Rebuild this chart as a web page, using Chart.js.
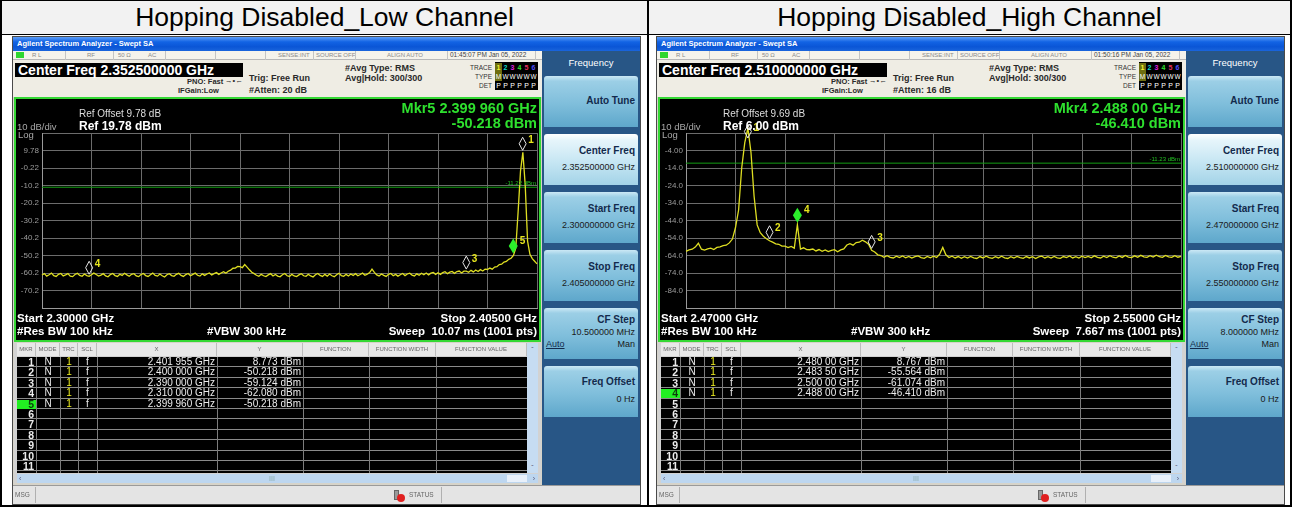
<!DOCTYPE html>
<html>
<head>
<meta charset="utf-8">
<title>Hopping Disabled</title>
<script src="https://cdn.jsdelivr.net/npm/chart.js@4.4.1/dist/chart.umd.min.js"></script>
<style>
* { box-sizing: border-box; }
body { margin: 0; width: 1292px; height: 507px; background: #fff; position: relative; overflow: hidden;
       font-family: "Liberation Sans", Arial, sans-serif; }
#frame { position: absolute; left: 0; top: 0; width: 1292px; height: 507px; border: 2px solid #000; border-top-width: 1px; }
.hdr { position: absolute; top: 0; height: 34px; background: #f2f2f2; border-bottom: 1px solid #000;
       font-size: 26.5px; line-height: 33px; text-align: center; color: #000; }
#divider { position: absolute; left: 645px; top: 0; width: 2px; height: 504px; background: #000; }

.screen { position: absolute; top: 36px; width: 629px; height: 469px; border: 1px solid #4a4a4a; background: #d6d3c9; }
.tbar { position: absolute; left: 0; top: 0; width: 627px; height: 14px; color: #fff; font-size: 7.5px; font-weight: bold;
        line-height: 14px; padding-left: 4px; background: linear-gradient(#5d9ef7, #1263e4 35%, #0a55d6 70%, #1a65dc); }
.srow { position: absolute; left: 0; top: 14px; width: 627px; height: 9px; background: #f5f3ec; border-bottom: 1px solid #b8b8b8;
        font-size: 6px; color: #8a8a8a; line-height: 8px; }
.srow i { position: absolute; top: 0; font-style: normal; white-space: nowrap; }
.srow b { position: absolute; top: 0; width: 1px; height: 9px; background: #c4c4c4; }
.lxi { position: absolute; left: 3px; top: 1px; width: 8px; height: 6px; background: #2fd62f; }
.info { position: absolute; left: 0; top: 23px; width: 627px; height: 37px; background: #efede4; }
.cf { position: absolute; left: 2px; top: 3px; width: 228px; height: 14px; background: #000; color: #fff; font-size: 14px;
      font-weight: bold; line-height: 14px; padding-left: 3px; white-space: nowrap; }
.t { position: absolute; white-space: nowrap; line-height: 12px; height: 12px; }
.b7 { font-size: 7.5px; font-weight: bold; color: #2a2a2a; }
.b9 { font-size: 9px; font-weight: bold; color: #2a2a2a; }
.tl { position: absolute; font-size: 6.5px; color: #333; line-height: 9px; white-space: nowrap; }
.tbox { position: absolute; left: 482px; top: 2px; width: 43px; height: 28px; background: #000; }
.tbox div { position: absolute; left: 0; width: 43px; height: 9px; line-height: 9px; font-size: 7px; font-weight: bold; color: #fff; }
.tbox span { display: inline-block; width: 7px; text-align: center; }

.plot { position: absolute; left: 1px; top: 60px; width: 527px; height: 245px; background: #000; border: 2px solid #34d834; }
.plot canvas { position: absolute; left: 0; top: 0; }
.w { color: #fff; font-weight: bold; font-size: 11.5px; }
.mk { color: #2ee02e; font-weight: bold; font-size: 14.5px; line-height: 14px; height: 14px; }

.tbl { position: absolute; left: 1px; top: 306px; width: 527px; height: 140px; background: #d2d2d2; }
.th { position: absolute; top: 0; height: 13px; line-height: 13px; font-size: 6px; color: #666; text-align: center;
      background: #e8e8e8; border-right: 1px solid #bdbdbd; white-space: nowrap; overflow: hidden; }
.tb { position: absolute; left: 3px; top: 14px; width: 510px; height: 116px; background: #000; }
.row { position: absolute; left: 0; width: 510px; height: 10.4px; border-bottom: 1px solid #8a8a8a; }
.vl { position: absolute; top: 0; width: 1px; height: 116px; background: #7c7c7c; }
.td { position: absolute; top: 0; height: 10px; line-height: 10px; font-size: 10px; color: #ececec; white-space: nowrap; }
.vs { position: absolute; left: 513px; top: 0; width: 11px; height: 130px; background: #c6dcf2; font-size: 7px; color: #557;
      text-align: center; }
.hs { position: absolute; left: 3px; top: 131px; width: 521px; height: 9px; background: #bdd6ef; font-size: 7px; color: #557;
      line-height: 9px; }

.keys { position: absolute; left: 529px; top: 14px; width: 98px; height: 434px; background: #285686; }
.ktl { position: absolute; left: 0; top: 4px; width: 98px; text-align: center; color: #fff; font-size: 9.5px; line-height: 16px; }
.key { position: absolute; left: 2px; width: 94px; height: 51px; border-radius: 3px 3px 0 0;
       background: linear-gradient(#cbe8f5 0, #9ccfe6 10%, #7fbedb 55%, #5ea7cb 100%); }
.key.sel { background: linear-gradient(#ffffff 0, #e6f5fb 12%, #c6e6f3 55%, #a3d3e8 100%); }
.kt { position: absolute; right: 3px; font-size: 10px; font-weight: bold; color: #132a4c; line-height: 12px; white-space: nowrap; }
.kv { position: absolute; right: 3px; font-size: 9px; color: #1a1a1a; line-height: 11px; white-space: nowrap; }

.msg { position: absolute; left: 0; top: 448px; width: 627px; height: 19px; background: #e4e4e4; border-top: 1px solid #9a9a9a;
       font-size: 6.5px; color: #666; line-height: 18px; }
.msg span { position: absolute; top: 0; }
.msg b { position: absolute; top: 1px; width: 1px; height: 16px; background: #b0b0b0; }
</style>
</head>
<body>
<div id="frame">
  <div class="hdr" style="left:0;width:645px">Hopping Disabled_Low Channel</div>
  <div class="hdr" style="left:647px;width:641px">Hopping Disabled_High Channel</div>
  <div id="divider"></div>
</div>
<div id="scrLow" class="screen" style="left:12px"></div>
<div id="scrHigh" class="screen" style="left:656px"></div>

<script>
// trace levels in dBm, one sample every 0.5 MHz from start to stop frequency
const lowLevels = [
  -61.4, -60.6, -62.0, -61.2, -60.3, -61.7, -62.2, -61.0, -60.5, -61.9,
  -61.3, -60.6, -62.0, -62.3, -61.1, -60.4, -61.6, -62.1, -60.8, -61.7,
  -62.08, -61.2, -60.3, -61.1, -62.0, -61.4, -60.6, -61.9, -62.4, -61.1,
  -60.5, -61.7, -62.2, -60.9, -61.6, -60.4, -61.3, -62.1, -61.0, -60.6,
  -61.9, -62.3, -61.1, -60.5, -61.7, -62.2, -61.2, -60.3, -61.6, -62.0,
  -60.8, -61.8, -62.5, -61.2, -60.6, -61.7, -62.1, -61.0, -60.4, -61.6,
  -62.2, -61.1, -60.5, -61.8, -61.0, -60.3, -61.5, -62.0, -60.7, -61.6,
  -60.8, -60.2, -61.3, -60.6, -60.0, -61.0, -60.2, -59.5, -60.3, -59.2,
  -58.6, -57.5, -57.4, -56.5, -56.6, -57.2, -55.4, -56.9, -58.4, -59.8,
  -60.6, -61.5, -62.1, -61.0, -61.8, -62.3, -61.3, -60.6, -61.9, -61.1,
  -62.0, -62.4, -61.2, -60.5, -61.8, -62.2, -61.0, -61.9, -62.3, -61.3,
  -60.6, -61.8, -62.1, -61.0, -61.9, -62.5, -61.2, -60.5, -61.6, -62.2,
  -61.0, -62.0, -60.8, -61.8, -62.3, -61.2, -60.4, -61.7, -62.1, -61.0,
  -61.9, -60.8, -61.6, -60.6, -61.8, -61.1, -60.3, -61.5, -60.9, -60.0,
  -58.0, -59.9, -61.3, -61.9, -60.8, -61.6, -62.2, -61.0, -60.5, -61.8,
  -61.0, -62.0, -61.2, -60.5, -61.7, -60.8, -60.3, -61.4, -61.9, -60.7,
  -61.5, -60.4, -61.2, -60.2, -61.3, -60.3, -59.9, -61.0, -60.1, -61.0,
  -60.0, -59.5, -60.6, -59.7, -59.3, -60.4, -59.4, -59.1, -60.2, -59.2,
  -59.124, -59.8, -58.7, -59.6, -58.5, -59.4, -58.3, -59.1, -58.0, -58.2,
  -57.4, -58.0, -56.8, -56.6, -55.4, -55.2, -54.0, -53.6, -52.4, -51.8,
  -50.218, -46.0, -25.0, -2.0, 8.773, -10.0, -42.0, -49.5, -52.0, -53.5, -55.0
];
const highLevels = [
  -61.6, -60.8, -60.4, -59.2, -57.0, -60.4, -60.9, -60.2, -59.8, -60.6,
  -59.4, -59.1, -58.4, -58.1, -56.8, -54.6, -48.0, -38.0, -14.0, 0.5,
  8.767, -5.0, -30.0, -46.5, -51.0, -53.0, -54.4, -55.564, -56.4, -57.3,
  -57.6, -58.6, -58.7, -59.5, -58.8, -59.8, -46.41, -60.3, -59.6, -60.6,
  -60.7, -60.3, -61.4, -60.6, -61.6, -60.8, -61.8, -61.1, -60.7, -61.9,
  -60.8, -60.2, -58.0, -57.2, -58.1, -56.6, -56.4, -55.3, -56.2, -57.5,
  -61.074, -62.0, -63.6, -64.0, -65.0, -64.1, -65.1, -65.4, -64.4, -65.2,
  -64.3, -65.3, -64.5, -65.5, -64.6, -64.2, -65.2, -65.6, -64.5, -65.3,
  -64.4, -65.1, -63.2, -59.4, -63.6, -65.2, -64.4, -65.4, -64.6, -65.6,
  -64.7, -65.5, -64.5, -65.3, -65.7, -64.6, -65.4, -64.4, -65.2, -65.6,
  -64.7, -65.4, -64.4, -65.3, -65.7, -64.7, -65.5, -64.5, -65.2, -65.6,
  -64.6, -65.4, -64.7, -65.7, -64.8, -64.4, -65.4, -64.7, -65.5, -64.5,
  -65.3, -65.6, -64.6, -65.2, -64.3, -65.4, -64.7, -65.5, -64.4, -65.2,
  -64.5, -65.3, -64.2, -65.1, -65.4, -64.4, -65.2, -64.1, -65.0, -65.3,
  -64.3, -65.1, -64.0, -64.9, -65.2, -64.2, -65.0, -63.9, -64.8, -65.1,
  -64.1, -64.9, -63.8, -64.7, -65.1, -64.0, -64.8, -65.1, -64.1, -65.0, -64.5
];

// marker table: frequency (MHz) and level (dBm)
const lowMarkerFreq = [2401.955, 2400.000, 2390.000, 2310.000, 2399.960];
const lowMarkerLevel = [8.773, -50.218, -59.124, -62.080, -50.218];
const highMarkerFreq = [2480.00, 2483.50, 2500.00, 2488.00];
const highMarkerLevel = [8.767, -55.564, -61.074, -46.410];

// graticule lines (10 dB/div) and their labels
const lowYTicks = [-80.22, -70.22, -60.22, -50.22, -40.22, -30.22, -20.22, -10.22, -0.22, 9.78, 19.78];
const lowYLabels = ['', '-70.2', '-60.2', '-50.2', '-40.2', '-30.2', '-20.2', '-10.2', '-0.22', '9.78', ''];
const highYTicks = [-94, -84, -74, -64, -54, -44, -34, -24, -14, -4, 6];
const highYLabels = ['', '-84.0', '-74.0', '-64.0', '-54.0', '-44.0', '-34.0', '-24.0', '-14.0', '-4.00', ''];

const FONT = '"Liberation Sans", Arial, sans-serif';
const STEP = 0.5;
const GRID = '#6c6c6c';

const screens = [
  { el: 'scrLow', center: '2.352500000 GHz', atten: '20 dB', time: '01:45:07 PM Jan 05, 2022',
    refOffset: '9.78 dB', ref: '19.78 dBm', start: 2300, stop: 2405,
    startText: '2.30000 GHz', stopText: '2.40500 GHz', sweep: '10.07 ms (1001 pts)',
    levels: lowLevels, yTicks: lowYTicks, yLabels: lowYLabels, dl: -11.22, dlText: '-11.22 dBm',
    mkFreq: lowMarkerFreq, mkLevel: lowMarkerLevel, active: 4, xDec: 6,
    keys: ['2.352500000 GHz', '2.300000000 GHz', '2.405000000 GHz', '10.500000 MHz'] },
  { el: 'scrHigh', center: '2.510000000 GHz', atten: '16 dB', time: '01:50:16 PM Jan 05, 2022',
    refOffset: '9.69 dB', ref: '6.00 dBm', start: 2470, stop: 2550,
    startText: '2.47000 GHz', stopText: '2.55000 GHz', sweep: '7.667 ms (1001 pts)',
    levels: highLevels, yTicks: highYTicks, yLabels: highYLabels, dl: -11.23, dlText: '-11.23 dBm',
    mkFreq: highMarkerFreq, mkLevel: highMarkerLevel, active: 3, xDec: 5,
    keys: ['2.510000000 GHz', '2.470000000 GHz', '2.550000000 GHz', '8.000000 MHz'] }
];

function fmtGHz(mhz, dec) {
  const s = (mhz / 1000).toFixed(dec);
  return s.slice(0, 5) + ' ' + s.slice(5) + ' GHz';
}
const fmtDbm = v => v.toFixed(3) + ' dBm';

// marker diamonds, numbers and the display-line label
const markerPlugin = {
  id: 'mkr',
  afterDatasetsDraw(chart, _args, o) {
    const { ctx, chartArea: area, scales: { x, y } } = chart;
    ctx.save();
    ctx.font = '6px ' + FONT;
    ctx.fillStyle = '#22c022';
    ctx.textAlign = 'right';
    ctx.textBaseline = 'bottom';
    ctx.fillText(o.dlText, area.right - 1, y.getPixelForValue(o.dl) - 1);

    const ax = x.getPixelForValue(o.freq[o.active]);
    const ay = y.getPixelForValue(o.level[o.active]);
    const order = o.freq.map((_, i) => i).filter(i => i !== o.active);
    order.push(o.active);
    order.forEach(i => {
      const on = i === o.active;
      const px = x.getPixelForValue(o.freq[i]);
      const py = y.getPixelForValue(o.level[i]);
      if (!on && Math.abs(px - ax) < 3 && Math.abs(py - ay) < 3) return;
      const w = on ? 4.5 : 3.5, h = on ? 15 : 13;
      const bot = Math.max(py - 2, area.top - 8 + h);
      const top = bot - h;
      ctx.beginPath();
      ctx.moveTo(px, top);
      ctx.lineTo(px + w, top + h / 2);
      ctx.lineTo(px, bot);
      ctx.lineTo(px - w, top + h / 2);
      ctx.closePath();
      if (on) {
        ctx.fillStyle = '#2bef2b';
        ctx.fill();
      } else {
        ctx.strokeStyle = '#e6e6e6';
        ctx.lineWidth = 1;
        ctx.stroke();
      }
      ctx.fillStyle = '#e6e61e';
      ctx.font = 'bold 10px ' + FONT;
      ctx.textAlign = 'left';
      ctx.textBaseline = 'middle';
      ctx.fillText(String(i + 1), px + w + 2, top + 3);
    });
    ctx.restore();
  }
};

function drawPlot(canvas, c) {
  const pts = c.levels.map((v, i) => ({ x: c.start + i * STEP, y: v }));
  const divs = Array.from({ length: 11 }, (_, k) => ({ value: c.start + k * (c.stop - c.start) / 10 }));
  new Chart(canvas, {
    type: 'line',
    data: {
      datasets: [
        { data: pts, borderColor: '#dede22', borderWidth: 1.3, pointRadius: 0, tension: 0, clip: false },
        { data: [{ x: c.start, y: c.dl }, { x: c.stop, y: c.dl }], borderColor: '#139c13', borderWidth: 1, pointRadius: 0 }
      ]
    },
    options: {
      responsive: false,
      animation: false,
      devicePixelRatio: 1,
      events: [],
      layout: { padding: { left: 0, top: 34, right: 2, bottom: 32 } },
      plugins: {
        legend: { display: false },
        tooltip: { enabled: false },
        mkr: { freq: c.mkFreq, level: c.mkLevel, active: c.active, dl: c.dl, dlText: c.dlText }
      },
      scales: {
        x: {
          type: 'linear', min: c.start, max: c.stop,
          afterBuildTicks: s => { s.ticks = divs; },
          afterFit: s => { s.height = 0; },
          ticks: { display: false },
          grid: { color: GRID, drawTicks: false },
          border: { color: '#9a9a9a' }
        },
        y: {
          min: c.yTicks[0], max: c.yTicks[c.yTicks.length - 1],
          afterBuildTicks: s => { s.ticks = c.yTicks.map(v => ({ value: v })); },
          afterFit: s => { s.width = 26; },
          ticks: { color: '#9c9c9c', font: { size: 8, family: FONT }, padding: 3, callback: (v, i) => c.yLabels[i] },
          grid: { color: GRID, drawTicks: false },
          border: { color: '#9a9a9a' }
        }
      }
    },
    plugins: [markerPlugin]
  });
}

function tableHtml(c) {
  const cols = [[3, 22, 'MKR'], [22, 46, 'MODE'], [46, 64, 'TRC'], [64, 83, 'SCL'], [83, 203, 'X'], [203, 289, 'Y'],
                [289, 355, 'FUNCTION'], [355, 422, 'FUNCTION WIDTH'], [422, 513, 'FUNCTION VALUE']];
  let h = '';
  cols.forEach(([a, b, n]) => { h += `<div class="th" style="left:${a}px;width:${b - a}px">${n}</div>`; });
  h += '<div class="tb">';
  for (let r = 0; r < 11; r++) {
    const top = 1 + r * 10.4;
    const has = r < c.mkFreq.length;
    const on = r === c.active;
    h += `<div class="row" style="top:${top - 1}px">`;
    if (on) h += '<div style="position:absolute;left:0;top:1px;width:19px;height:9px;background:#22ee22"></div>';
    h += `<div class="td" style="left:0;width:17px;text-align:right;font-weight:bold;font-size:10.5px;${on ? 'color:#0c3a0c' : ''}">${r + 1}</div>`;
    if (has) {
      h += '<div class="td" style="left:19px;width:24px;text-align:center">N</div>';
      h += '<div class="td" style="left:43px;width:18px;text-align:center;color:#f0f020">1</div>';
      h += '<div class="td" style="left:61px;width:19px;text-align:center">f</div>';
      h += `<div class="td" style="left:80px;width:118px;text-align:right">${fmtGHz(c.mkFreq[r], c.xDec)}</div>`;
      h += `<div class="td" style="left:200px;width:84px;text-align:right">${fmtDbm(c.mkLevel[r])}</div>`;
    }
    h += '</div>';
  }
  [19, 43, 61, 80, 200, 286, 352, 419].forEach(x => { h += `<div class="vl" style="left:${x}px"></div>`; });
  h += '</div>';
  h += '<div class="vs"><div style="line-height:13px">&#710;</div><div style="position:absolute;bottom:0;width:11px;line-height:10px">&#711;</div></div>';
  h += '<div class="hs"><span style="position:absolute;left:2px">&lsaquo;</span>' +
       '<span style="position:absolute;left:252px;color:#8aa">III</span>' +
       '<span style="position:absolute;left:490px;top:1px;width:20px;height:7px;background:#e8f0fa"></span>' +
       '<span style="position:absolute;right:3px">&rsaquo;</span></div>';
  return h;
}

function keysHtml(c) {
  const tops = [25, 83, 141, 199, 257, 315];
  let h = '<div class="ktl">Frequency</div>';
  h += `<div class="key" style="top:${tops[0]}px"><div class="kt" style="top:19px">Auto Tune</div></div>`;
  const simple = [['Center Freq', c.keys[0]], ['Start Freq', c.keys[1]], ['Stop Freq', c.keys[2]]];
  simple.forEach(([t, v], i) => {
    h += `<div class="key${i === 0 ? ' sel' : ''}" style="top:${tops[i + 1]}px">` +
         `<div class="kt" style="top:11px">${t}</div><div class="kv" style="top:28px">${v}</div></div>`;
  });
  h += `<div class="key" style="top:${tops[4]}px"><div class="kt" style="top:6px">CF Step</div>` +
       `<div class="kv" style="top:19px">${c.keys[3]}</div>` +
       '<div class="kv" style="top:31px;left:2px;right:auto;text-decoration:underline;color:#132a4c">Auto</div>' +
       '<div class="kv" style="top:31px">Man</div></div>';
  h += `<div class="key" style="top:${tops[5]}px"><div class="kt" style="top:10px">Freq Offset</div>` +
       '<div class="kv" style="top:28px">0 Hz</div></div>';
  return h;
}

function buildScreen(c) {
  const s = document.getElementById(c.el);
  const m = c.active;
  s.innerHTML = `
  <div class="tbar">Agilent Spectrum Analyzer - Swept SA</div>
  <div class="srow">
    <span class="lxi"></span>
    <i style="left:19px">R L</i><i style="left:74px">RF</i><i style="left:105px">50 &Omega;</i><i style="left:135px">AC</i>
    <i style="left:265px">SENSE:INT</i><i style="left:303px">SOURCE OFF</i><i style="left:374px">ALIGN AUTO</i>
    <i style="left:437px;color:#444;font-size:6.5px">${c.time}</i>
    <b style="left:52px"></b><b style="left:100px"></b><b style="left:152px"></b><b style="left:202px"></b>
    <b style="left:252px"></b><b style="left:300px"></b><b style="left:342px"></b><b style="left:434px"></b><b style="left:522px"></b>
  </div>
  <div class="info">
    <div class="cf">Center Freq ${c.center}</div>
    <div class="t b7" style="left:174px;top:16px">PNO: Fast</div>
    <div class="t b7" style="left:165px;top:25px">IFGain:Low</div>
    <div class="t b7" style="left:212px;top:15px;font-weight:normal">&#8594;&#8226;&#8592;</div>
    <div class="t b9" style="left:236px;top:12px">Trig: Free Run</div>
    <div class="t b9" style="left:236px;top:24px">#Atten: ${c.atten}</div>
    <div class="t b9" style="left:332px;top:2px">#Avg Type: RMS</div>
    <div class="t b9" style="left:332px;top:12px">Avg|Hold: 300/300</div>
    <div class="tl" style="right:148px;top:2.5px">TRACE</div>
    <div class="tl" style="right:148px;top:11.5px">TYPE</div>
    <div class="tl" style="right:148px;top:20.5px">DET</div>
    <div class="tbox">
      <div style="top:0.5px"><span style="background:#6e6e10;color:#f4f430">1</span><span style="color:#10d8c8">2</span><span style="color:#e020e0">3</span><span style="color:#30e030">4</span><span style="color:#e83060">5</span><span style="color:#5050ff">6</span></div>
      <div style="top:9.5px;font-weight:normal;font-size:6.5px"><span style="background:#6e6e10">M</span><span>W</span><span>W</span><span>W</span><span>W</span><span>W</span></div>
      <div style="top:18.5px;font-weight:normal"><span>P</span><span>P</span><span>P</span><span>P</span><span>P</span><span>P</span></div>
    </div>
  </div>
  <div class="plot">
    <canvas width="523" height="241"></canvas>
    <div class="t" style="left:63px;top:9px;font-size:10px;color:#dcdcdc">Ref Offset ${c.refOffset}</div>
    <div class="t w" style="left:63px;top:21px;font-size:12px">Ref ${c.ref}</div>
    <div class="t" style="left:1px;top:22px;font-size:9.5px;color:#a8a8a8">10 dB/div</div>
    <div class="t" style="left:2px;top:30px;font-size:9.5px;color:#a8a8a8">Log</div>
    <div class="t mk" style="right:2px;top:2px">Mkr${m + 1} ${fmtGHz(c.mkFreq[m], c.xDec)}</div>
    <div class="t mk" style="right:2px;top:17px">${fmtDbm(c.mkLevel[m])}</div>
    <div class="t w" style="left:1px;top:213px">Start ${c.startText}</div>
    <div class="t w" style="left:1px;top:226px">#Res BW 100 kHz</div>
    <div class="t w" style="left:191px;top:226px">#VBW 300 kHz</div>
    <div class="t w" style="right:2px;top:213px">Stop ${c.stopText}</div>
    <div class="t w" style="right:2px;top:226px">Sweep&nbsp; ${c.sweep}</div>
  </div>
  <div class="tbl">${tableHtml(c)}</div>
  <div class="keys">${keysHtml(c)}</div>
  <div class="msg">
    <span style="left:2px">MSG</span><b style="left:22px"></b>
    <span style="left:381px;top:4px;width:5px;height:10px;background:#9a9a9a;border:1px solid #666"></span>
    <span style="left:384px;top:8px;width:8px;height:8px;border-radius:50%;background:#e02020"></span>
    <span style="left:396px">STATUS</span><b style="left:428px"></b>
  </div>`;
  drawPlot(s.querySelector('canvas'), c);
}

screens.forEach(buildScreen);
</script>
</body>
</html>
